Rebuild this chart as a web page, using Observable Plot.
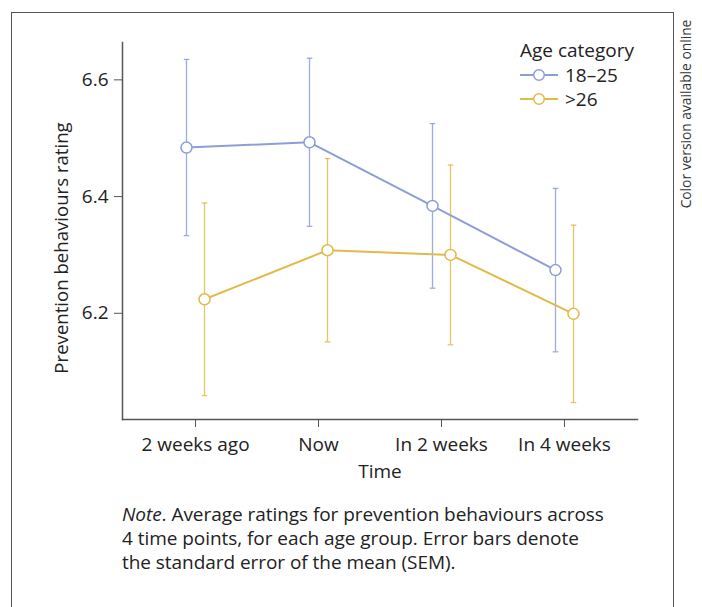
<!DOCTYPE html>
<html>
<head>
<meta charset="utf-8">
<script src="https://cdn.jsdelivr.net/npm/d3@7"></script>
<script src="https://cdn.jsdelivr.net/npm/@observablehq/plot@0.6"></script>
<style>
  html, body { margin: 0; padding: 0; background: #fff; }
  body { font-family: "Open Sans", sans-serif; color: #222; }
  #wrap { position: relative; width: 702px; height: 607px; overflow: hidden; background: #fff; }
  #box { position: absolute; left: 11px; top: 12px; width: 661px; height: 700px; border: 1.5px solid #555; }
  #chart { position: absolute; left: 0; top: 0; }
  #side { position: absolute; left: 685px; top: 114px; transform: translate(-50%, -50%) rotate(-90deg); white-space: nowrap; font-size: 13.8px; color: #333; }
  #ylab { position: absolute; left: 60px; top: 248px; transform: translate(-50%, -50%) rotate(-90deg); white-space: nowrap; font-size: 18.6px; color: #222; }
  #legend { position: absolute; left: 520px; top: 38px; font-size: 19px; color: #222; }
  #legend .title { line-height: 25px; }
  #legend .row { display: flex; align-items: center; height: 24px; }
  #legend .row svg { margin-right: 7px; }
  #note { position: absolute; left: 122px; top: 502px; font-size: 19px; line-height: 24px; color: #222; white-space: nowrap; letter-spacing: -0.05px; }
</style>
</head>
<body>
<div id="wrap">
  <div id="box"></div>
  <div id="chart"></div>
  <div id="side">Color version available online</div>
  <div id="ylab"></div>
  <div id="legend"></div>
  <div id="note"><i>Note</i>. Average ratings for prevention behaviours across<br>4 time points, for each age group. Error bars denote<br>the standard error of the mean (SEM).</div>
</div>
<script>
// ---- data ----
const times = ["2 weeks ago", "Now", "In 2 weeks", "In 4 weeks"];
const groups = ["18–25", ">26"];
const colors = ["#8d9ed6", "#e2ba48"];
const mean1825 = [6.484, 6.493, 6.384, 6.274];
const sem1825  = [0.151, 0.144, 0.141, 0.140];
const mean26   = [6.224, 6.308, 6.300, 6.199];
const sem26    = [0.165, 0.157, 0.154, 0.152];
const yTicks = [6.2, 6.4, 6.6];
const legendTitle = "Age category";
const yLabel = "Prevention behaviours rating";
const xLabel = "Time";

const series = [
  {group: groups[0], color: colors[0], dx: -9, rows: times.map((t, i) => ({time: t, mean: mean1825[i], lo: mean1825[i] - sem1825[i], hi: mean1825[i] + sem1825[i]}))},
  {group: groups[1], color: colors[1], dx: 9, rows: times.map((t, i) => ({time: t, mean: mean26[i], lo: mean26[i] - sem26[i], hi: mean26[i] + sem26[i]}))}
];

// horizontal cap symbol for error bars
const capSymbol = {
  draw(context, size) {
    const r = Math.sqrt(size / Math.PI);
    context.moveTo(-r, 0);
    context.lineTo(r, 0);
  }
};

const marks = [];
for (const s of series) {
  marks.push(Plot.ruleX(s.rows, {x: "time", y1: "lo", y2: "hi", stroke: s.color, strokeWidth: 1.3, strokeOpacity: 0.85, dx: s.dx}));
  marks.push(Plot.dot(s.rows, {x: "time", y: "hi", symbol: capSymbol, r: 2.8, stroke: s.color, strokeWidth: 1.3, strokeOpacity: 0.85, fill: "none", dx: s.dx}));
  marks.push(Plot.dot(s.rows, {x: "time", y: "lo", symbol: capSymbol, r: 2.8, stroke: s.color, strokeWidth: 1.3, strokeOpacity: 0.85, fill: "none", dx: s.dx}));
}
for (const s of series) {
  marks.push(Plot.line(s.rows, {x: "time", y: "mean", stroke: s.color, strokeWidth: 2, dx: s.dx}));
}
for (const s of series) {
  marks.push(Plot.dot(s.rows, {x: "time", y: "mean", r: 5.5, fill: "white", stroke: s.color, strokeWidth: 1.5, dx: s.dx}));
}

const chart = Plot.plot({
  width: 702,
  height: 607,
  marginLeft: 122,
  marginRight: 65,
  marginTop: 42,
  marginBottom: 188,
  style: {fontFamily: "'Open Sans', sans-serif", fontSize: "19px", color: "#222", background: "transparent", overflow: "visible"},
  x: {type: "point", domain: times, padding: 0.593},
  y: {domain: [6.018, 6.664]},
  marks: [
    Plot.frame({anchor: "left", stroke: "#555", strokeWidth: 1.5}),
    Plot.frame({anchor: "bottom", stroke: "#555", strokeWidth: 1.5}),
    Plot.axisY({ticks: yTicks, tickSize: 8, tickPadding: 6, label: null, tickFormat: d3.format(".1f"), fontSize: 19, stroke: "#555", fill: "#222"}),
    Plot.axisX({tickSize: 8, tickPadding: 10, label: null, fontSize: 19, stroke: "#555", fill: "#222"}),
    Plot.text([xLabel], {frameAnchor: "bottom", dy: 58, fontSize: 19, fill: "#222"}),
    ...marks
  ]
});
document.getElementById("chart").appendChild(chart);
document.getElementById("ylab").textContent = yLabel;

// legend
const legend = d3.select("#legend");
legend.append("div").attr("class", "title").text(legendTitle);
series.forEach(s => {
  const row = legend.append("div").attr("class", "row");
  const svg = row.append("svg").attr("width", 38).attr("height", 14);
  svg.append("line").attr("x1", 0).attr("x2", 38).attr("y1", 7).attr("y2", 7).attr("stroke", s.color).attr("stroke-width", 2);
  svg.append("circle").attr("cx", 19).attr("cy", 7).attr("r", 5.3).attr("fill", "white").attr("stroke", s.color).attr("stroke-width", 1.5);
  row.append("span").text(s.group);
});
</script>
</body>
</html>
